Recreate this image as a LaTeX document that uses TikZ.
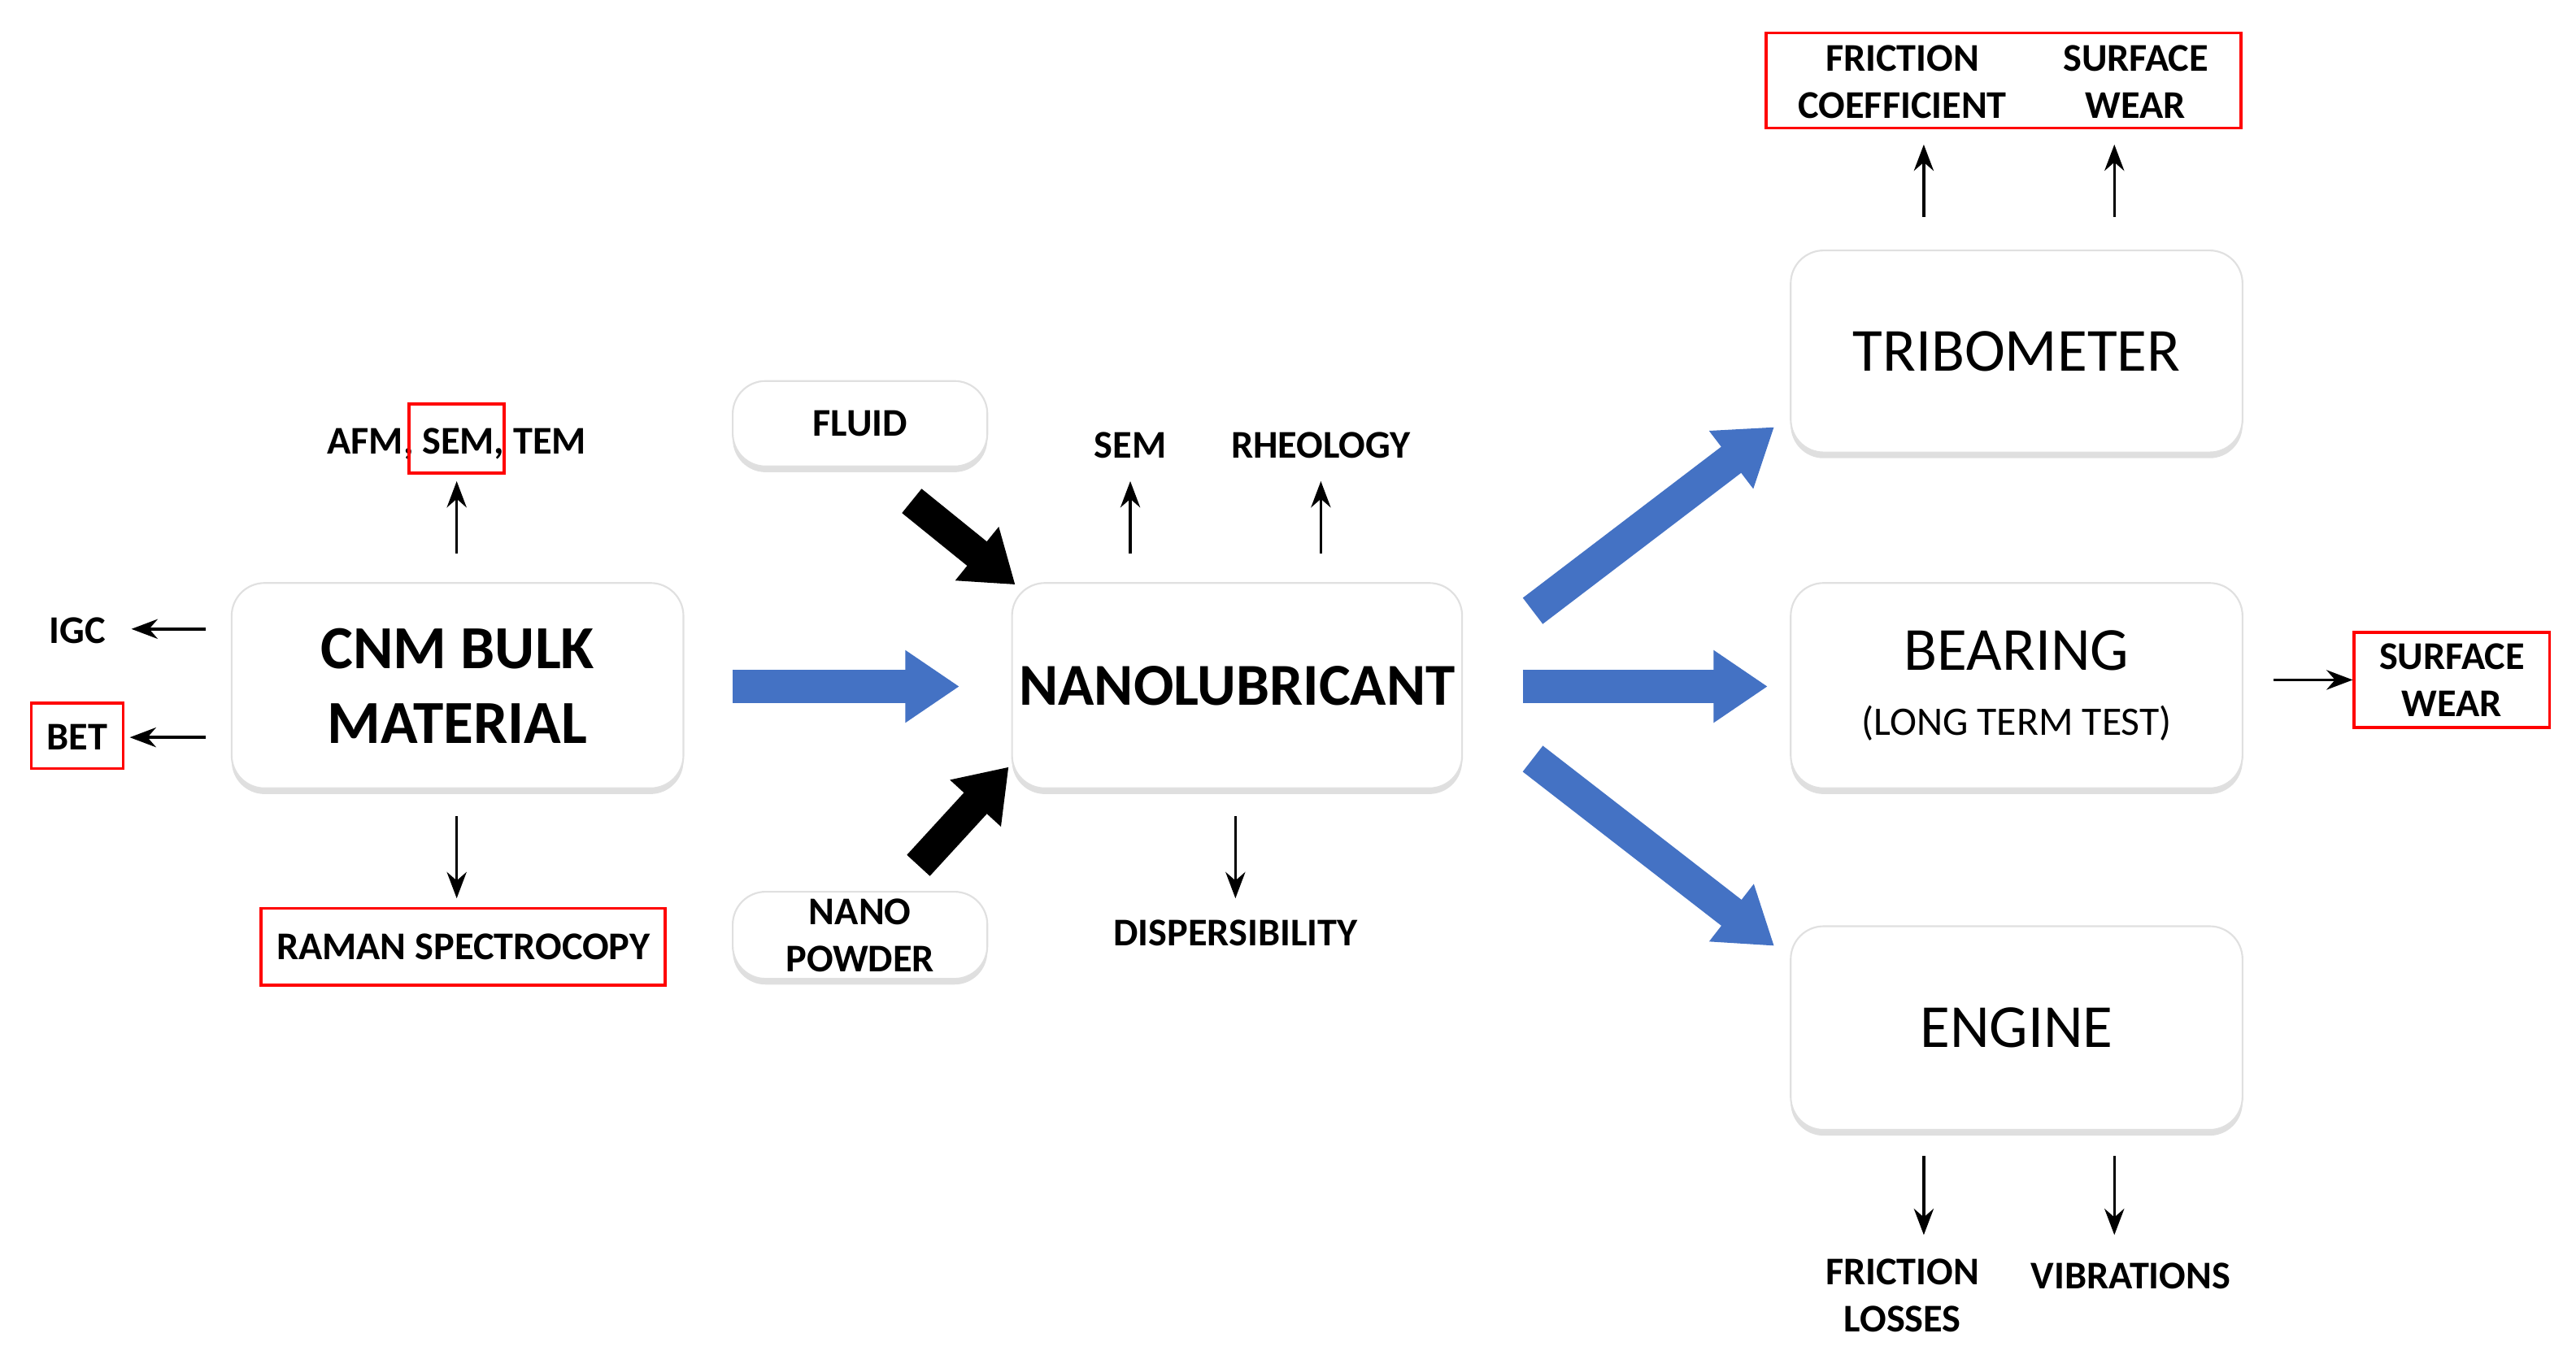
\documentclass[tikz,border=0pt]{standalone}
\usepackage{fontspec}
\setmainfont{Carlito}
\usetikzlibrary{arrows.meta,shadows}
\definecolor{myblue}{HTML}{4472C4}
\begin{document}
\begin{tikzpicture}[x=0.1mm,y=-0.1mm,
  box/.style={draw=black!12,fill=white,rounded corners=2mm,drop shadow={opacity=0.25,shadow xshift=0pt,shadow yshift=-1pt},line width=0.3pt,inner sep=0pt},
  lbl/.style={font=\fontsize{6.8}{8.2}\selectfont\bfseries,align=center,inner sep=0pt},
  red/.style={draw=red,line width=0.5pt},
  sa/.style={-{Stealth[length=1.6mm 0,width=1.2mm 0]},line width=0.5pt},
  blue/.style={draw=myblue,line width=2mm,-{Triangle[length=3.3mm 0,width=4.2mm 0]}},
  blk/.style={draw=black,line width=1.9mm,-{Triangle[length=3mm 0,width=4mm 0]}}]
\useasboundingbox (0,0) rectangle (1568,825);
% boxes
\node[box,minimum width=27.5mm,minimum height=12.5mm,font=\fontsize{10.6}{13}\selectfont\bfseries,align=center] (cnm) at (278.5,417.5) {CNM BULK\\MATERIAL};
\node[box,minimum width=27.4mm,minimum height=12.5mm,font=\fontsize{10.3}{12}\selectfont\bfseries] (nl) at (753,417.5) {NANOLUBRICANT};
\node[box,minimum width=27.5mm,minimum height=12.3mm,font=\fontsize{10.6}{12}\selectfont] (tri) at (1227.5,214) {TRIBOMETER};
\node[box,minimum width=27.5mm,minimum height=12.5mm,align=center] (bear) at (1227.5,417.5) {{\fontsize{10.6}{12}\selectfont BEARING}\\[-0.3mm]{\fontsize{7}{8}\selectfont (LONG TERM TEST)}};
\node[box,minimum width=27.5mm,minimum height=12.4mm,font=\fontsize{10.6}{12}\selectfont] (eng) at (1227.5,626) {ENGINE};
\node[box,minimum width=15.5mm,minimum height=5.2mm,lbl] (fluid) at (523.5,258) {FLUID};
\node[box,minimum width=15.5mm,minimum height=5.3mm,lbl] (np) at (523.5,569.5) {NANO\\POWDER};
% CNM labels
\node[lbl] (afm) at (278,270) {AFM, SEM, TEM};
\draw[red] (249,246) rectangle (307,288);
\node[lbl] (igc) at (47,384) {IGC};
\node[lbl] (bet) at (47,449) {BET};
\draw[red] (19,428) rectangle (75,468);
\node[lbl,draw=red,line width=0.5pt,minimum width=24.6mm,minimum height=4.7mm] (raman) at (282,576.5) {RAMAN SPECTROCOPY};
\coordinate (c1) at (278,337); \coordinate (c1e) at (278,293);
\draw[sa] (c1) -- (c1e);
\coordinate (c2) at (278,497); \coordinate (c2e) at (278,547);
\draw[sa] (c2) -- (c2e);
\coordinate (c3) at (125,383); \coordinate (c3e) at (80,383);
\draw[sa] (c3) -- (c3e);
\coordinate (c4) at (125,449); \coordinate (c4e) at (79,449);
\draw[sa] (c4) -- (c4e);
% NL labels
\node[lbl] (sem) at (688,271) {SEM};
\node[lbl] (rh) at (804,271) {RHEOLOGY};
\node[lbl] (disp) at (752,568) {DISPERSIBILITY};
\coordinate (n1) at (688,337); \coordinate (n1e) at (688,293);
\draw[sa] (n1) -- (n1e);
\coordinate (n2) at (804,337); \coordinate (n2e) at (804,293);
\draw[sa] (n2) -- (n2e);
\coordinate (n3) at (752,497); \coordinate (n3e) at (752,547);
\draw[sa] (n3) -- (n3e);
% blue arrows
\coordinate (b0) at (446,418); \coordinate (b0e) at (584,418);
\draw[blue] (b0) -- (b0e);
\coordinate (b1) at (933,372); \coordinate (b1e) at (1080,260);
\draw[blue] (b1) -- (b1e);
\coordinate (b2) at (927,418); \coordinate (b2e) at (1076,418);
\draw[blue] (b2) -- (b2e);
\coordinate (b3) at (933,462); \coordinate (b3e) at (1080,576);
\draw[blue] (b3) -- (b3e);
% black arrows
\coordinate (k1) at (555,305); \coordinate (k1e) at (618,356);
\draw[blk] (k1) -- (k1e);
\coordinate (k2) at (559,527); \coordinate (k2e) at (614,467);
\draw[blk] (k2) -- (k2e);
% tribometer labels
\node[lbl] (fc) at (1158,50) {FRICTION\\COEFFICIENT};
\node[lbl] (sw) at (1300,50) {SURFACE\\WEAR};
\draw[red] (1075,20) rectangle (1364,78);
\coordinate (t1) at (1171,132); \coordinate (t1e) at (1171,88);
\draw[sa] (t1) -- (t1e);
\coordinate (t2) at (1287,132); \coordinate (t2e) at (1287,88);
\draw[sa] (t2) -- (t2e);
% bearing
\node[lbl,draw=red,line width=0.5pt,minimum width=11.9mm,minimum height=5.8mm] (sw2) at (1492.5,414) {SURFACE\\WEAR};
\coordinate (r1) at (1384,414);
\draw[sa] (r1) -- (sw2.west);
% engine
\node[lbl] (fl) at (1158,789) {FRICTION\\LOSSES};
\node[lbl] (vib) at (1297,777) {VIBRATIONS};
\coordinate (e1) at (1171,704); \coordinate (e1e) at (1171,752);
\draw[sa] (e1) -- (e1e);
\coordinate (e2) at (1287,704); \coordinate (e2e) at (1287,752);
\draw[sa] (e2) -- (e2e);
\end{tikzpicture}
\end{document}
